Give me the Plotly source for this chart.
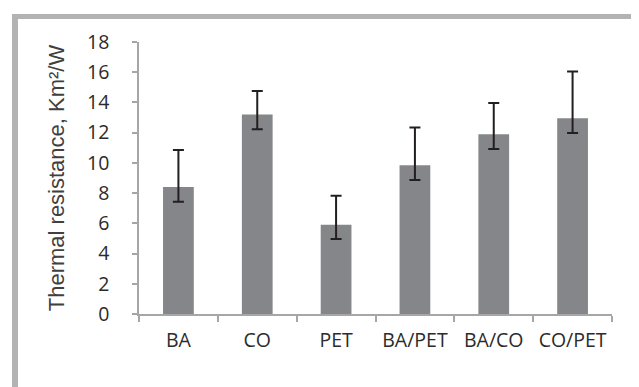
import plotly.graph_objects as go

categories = ["BA", "CO", "PET", "BA/PET", "BA/CO", "CO/PET"]
values = [8.4, 13.2, 5.9, 9.85, 11.9, 12.95]
err_plus = [2.45, 1.55, 1.93, 2.5, 2.07, 3.1]
err_minus = [0.97, 0.98, 0.93, 0.98, 0.98, 0.97]
y_ticks = [0, 2, 4, 6, 8, 10, 12, 14, 16, 18]

W, H = 639, 387
L, R, T, B = 131, 35, 34, 81
pw, ph = W - L - R, H - T - B

def px(x):
    return (x - L) / pw

def py(y):
    return (H - B - y) / ph

fig = go.Figure(go.Bar(
    x=categories, y=values,
    marker=dict(color="#858689", line=dict(width=0)),
    error_y=dict(type="data", symmetric=False, array=err_plus, arrayminus=err_minus,
                 color="#231f20", thickness=2, width=5.5),
))

border = "#b3b3b3"
tick_font = dict(family="Open Sans", size=19.5, color="#2b2b2b")
fig.update_layout(
    width=W, height=H,
    margin=dict(l=L, r=R, t=T, b=B, pad=0),
    paper_bgcolor="white", plot_bgcolor="white",
    bargap=0.61, showlegend=False,
    font=tick_font,
    xaxis=dict(type="category", showgrid=False, showline=True, linecolor="#a6a6a6", linewidth=1.5,
               ticks="outside", tickson="boundaries", ticklen=6, tickcolor="#a6a6a6", tickwidth=1.5,
               ticklabelstandoff=8, tickfont=tick_font, range=[-0.5, 5.5]),
    yaxis=dict(range=[0, 18], tickvals=y_ticks, showgrid=False, zeroline=False, showline=True,
               linecolor="#a6a6a6", linewidth=1.5, ticks="outside", ticklen=5, tickcolor="#a6a6a6",
               tickwidth=1.5, ticklabelstandoff=19, tickfont=tick_font,
               title=dict(text="Thermal resistance, Km\u00b2/W", standoff=16,
                          font=dict(family="Liberation Sans", size=22, color="#404040"))),
    shapes=[
        dict(type="rect", xref="paper", yref="paper", x0=px(4), x1=px(10), y0=py(387), y1=py(6),
             fillcolor=border, line=dict(width=0), layer="above"),
        dict(type="rect", xref="paper", yref="paper", x0=px(4), x1=px(639), y0=py(11), y1=py(6),
             fillcolor=border, line=dict(width=0), layer="above"),
        dict(type="rect", xref="paper", yref="paper", x0=px(4), x1=px(639), y0=py(387), y1=py(385),
             fillcolor="#d4d4d4", line=dict(width=0), layer="above"),
    ],
)

fig.write_html("out.html")
